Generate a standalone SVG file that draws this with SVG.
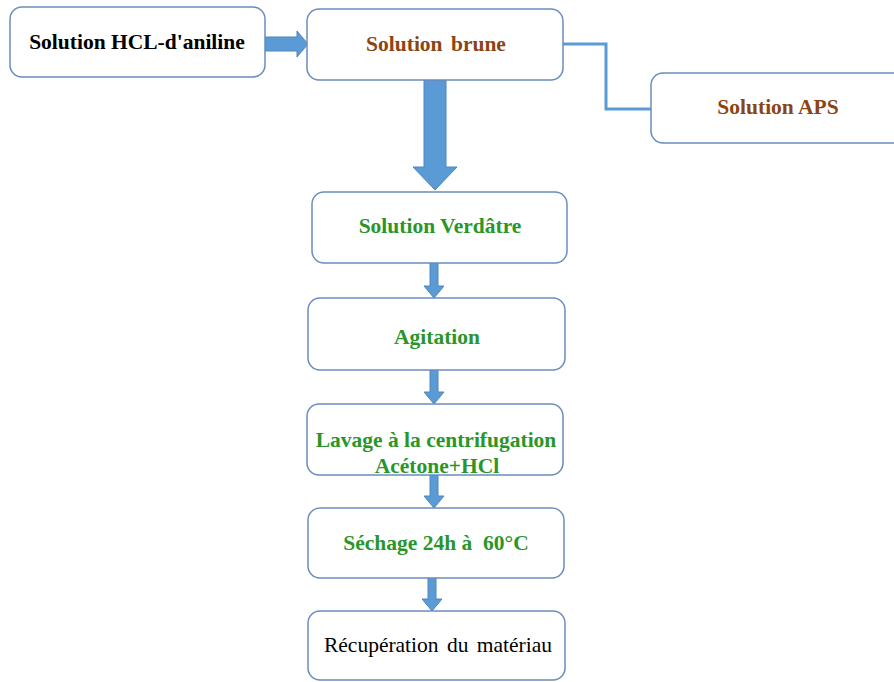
<svg xmlns="http://www.w3.org/2000/svg" width="894" height="682" viewBox="0 0 894 682">
<style>
.box{fill:#fff;stroke:#6A8CBF;stroke-width:1.5}
.t{font-family:"Liberation Serif",serif;font-size:21.5px;font-weight:bold;text-anchor:middle}
.n{font-weight:normal}
.blk{fill:#000}
.brn{fill:#8B4513}
.grn{fill:#2A962A}
.arr{fill:#5B9BD5;stroke:#4F86C0;stroke-width:1}
.ln{fill:none;stroke:#5B9BD5;stroke-width:3}
</style>
<rect width="894" height="682" fill="#fff"/>
<g id="connectors">
<polygon class="arr" points="265,37 297,37 297,31 308,44 297,57 297,51 265,51"/>
<polyline class="ln" points="563,44 606,44 606,109 651,109"/>
<polygon class="arr" points="424,80 446,80 446,167 457,167 435,190 413,167 424,167"/>
<polygon class="arr" points="430,263 438,263 438,286 444,286 434,298 424,286 430,286"/>
<polygon class="arr" points="430,370 438,370 438,392 444,392 434,404 424,392 430,392"/>
<polygon class="arr" points="430,475 438,475 438,496 444,496 434,508 424,496 430,496"/>
<polygon class="arr" points="428,578 436,578 436,599 442,599 432,611 422,599 428,599"/>
</g>
<g id="n1"><rect class="box" x="10" y="7" width="255" height="70" rx="12"/><text class="t blk" x="137" y="49">Solution HCL-d'aniline</text></g>
<g id="n2"><rect class="box" x="307" y="9" width="256" height="71" rx="12"/><text class="t brn" x="436" y="51" word-spacing="3">Solution brune</text></g>
<g id="n3"><rect class="box" x="651" y="73" width="260" height="70" rx="12"/><text class="t brn" x="778" y="114">Solution APS</text></g>
<g id="n4"><rect class="box" x="312" y="192" width="255" height="71" rx="12"/><text class="t grn" x="440" y="233">Solution Verdâtre</text></g>
<g id="n5"><rect class="box" x="308" y="298" width="257" height="72" rx="12"/><text class="t grn" x="437" y="344">Agitation</text></g>
<g id="n6"><rect class="box" x="307" y="404" width="256" height="71" rx="12"/><text class="t grn" x="436" y="447">Lavage à la centrifugation</text><text class="t grn" x="437" y="473">Acétone+HCl</text></g>
<g id="n7"><rect class="box" x="308" y="508" width="256" height="70" rx="12"/><text class="t grn" x="436" y="550" xml:space="preserve">Séchage 24h à  60°C</text></g>
<g id="n8"><rect class="box" x="308" y="611" width="257" height="69" rx="12"/><text class="t n blk" x="438" y="652" word-spacing="3">Récupération du matériau</text></g>
</svg>
